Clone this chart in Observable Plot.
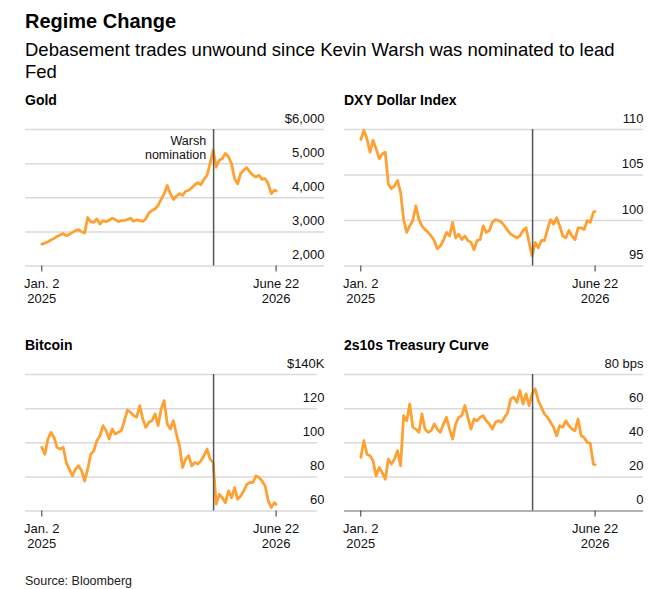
<!DOCTYPE html>
<html><head><meta charset="utf-8">
<script src="https://cdn.jsdelivr.net/npm/d3@7"></script>
<script src="https://cdn.jsdelivr.net/npm/@observablehq/plot@0.6"></script>
<style>
html,body{margin:0;padding:0;background:#fff}
body{font-family:"Liberation Sans",Arial,Helvetica,sans-serif;color:#000}
#root{position:relative;width:660px;height:589px;overflow:hidden}
.abs{position:absolute;white-space:nowrap}
#title{left:25px;top:11.4px;font-size:20px;line-height:20px;font-weight:bold}
#subtitle{left:25px;top:38.6px;font-size:18.5px;line-height:22.3px;width:612px;white-space:normal}
.ptitle{font-size:14px;line-height:14px;font-weight:bold}
#source{left:25px;top:574.7px;font-size:12.5px;line-height:12.5px;color:#222}
.panel svg{display:block}
</style>
</head><body>
<div id="root">
  <div id="title" class="abs">Regime Change</div>
  <div id="subtitle" class="abs">Debasement trades unwound since Kevin Warsh was nominated to lead Fed</div>
  <div class="abs ptitle" style="left:25px;top:92.5px">Gold</div>
  <div class="abs ptitle" style="left:344px;top:92.5px">DXY Dollar Index</div>
  <div class="abs ptitle" style="left:25px;top:338.1px">Bitcoin</div>
  <div class="abs ptitle" style="left:344px;top:338.1px">2s10s Treasury Curve</div>
  <div id="p-gold" class="abs panel" style="left:25px;top:108px"></div>
  <div id="p-dxy" class="abs panel" style="left:344px;top:108px"></div>
  <div id="p-btc" class="abs panel" style="left:25px;top:352.7px"></div>
  <div id="p-curve" class="abs panel" style="left:344px;top:352.7px"></div>
  <div id="source" class="abs">Source: Bloomberg</div>
</div>
<script>
const dates = [
"2025-01-02","2025-01-09","2025-01-16","2025-01-23","2025-01-30","2025-02-06","2025-02-13","2025-02-20","2025-02-27","2025-03-06",
"2025-03-13","2025-03-20","2025-03-27","2025-04-03","2025-04-10","2025-04-17","2025-04-24","2025-05-01","2025-05-08","2025-05-15",
"2025-05-22","2025-05-29","2025-06-05","2025-06-12","2025-06-19","2025-06-26","2025-07-03","2025-07-10","2025-07-17","2025-07-24",
"2025-07-31","2025-08-07","2025-08-14","2025-08-21","2025-08-28","2025-09-04","2025-09-11","2025-09-18","2025-09-25","2025-10-02",
"2025-10-09","2025-10-16","2025-10-23","2025-10-30","2025-11-06","2025-11-13","2025-11-20","2025-11-27","2025-12-04","2025-12-11",
"2025-12-18","2025-12-25","2026-01-01","2026-01-08","2026-01-15","2026-01-22","2026-01-29","2026-02-05","2026-02-12","2026-02-19",
"2026-02-26","2026-03-05","2026-03-12","2026-03-19","2026-03-26","2026-04-02","2026-04-09","2026-04-16","2026-04-23","2026-04-30",
"2026-05-07","2026-05-14","2026-05-21","2026-05-28","2026-06-04","2026-06-11","2026-06-18","2026-06-22"];

const gold = [
2640,2670,2710,2760,2810,2870,2910,2950,2890,2925,
2985,3035,3065,3005,2965,3420,3300,3280,3380,3230,
3330,3300,3340,3400,3360,3300,3330,3340,3360,3400,
3310,3350,3330,3310,3380,3560,3625,3670,3775,3950,
4120,4360,4120,3950,4050,4120,4070,4190,4220,4290,
4380,4440,4380,4540,4660,5000,5400,4900,5100,5150,
5300,5200,5000,4560,4410,4710,4810,4880,4760,4660,
4610,4660,4540,4560,4410,4120,4220,4200];

const dxy = [
108.9,109.9,109.0,107.5,108.8,107.9,106.8,107.3,107.5,104.0,
103.5,103.8,104.4,103.1,100.1,98.7,99.4,100.0,101.6,100.1,
99.4,99.0,98.7,98.3,97.8,96.9,97.2,97.8,98.7,98.3,
99.8,98.1,98.5,97.9,98.3,97.8,97.6,96.8,97.8,97.9,
99.4,98.7,98.9,99.8,100.1,100.0,99.8,99.4,98.9,98.5,
98.3,98.1,98.3,98.9,99.2,97.6,96.1,97.6,97.0,97.8,
97.8,99.0,100.1,99.6,100.3,99.4,98.3,98.1,98.9,98.3,
97.9,99.2,99.2,99.0,100.0,99.8,100.9,101.0];

const bitcoin = [
97.3,93.3,102.2,106.1,103.1,97.3,96.3,97.3,88.4,84.5,
80.6,84.5,86.5,83.5,77.6,84.5,93.3,95.3,101.2,104.1,
110.0,107.1,102.2,108.0,105.1,106.1,107.1,112.9,119.2,117.8,
115.9,114.9,121.8,113.9,109.0,112.0,112.9,116.9,110.0,119.8,
124.7,111.0,108.0,112.9,105.1,98.2,85.5,90.4,92.4,86.5,
88.4,87.5,89.4,92.4,96.3,90.4,88.4,64.0,69.8,67.8,
64.9,71.8,67.8,73.7,66.9,68.8,71.8,75.7,76.7,76.7,
80.6,79.6,77.6,74.7,65.9,62.0,64.9,63.9];

const curve2s10s = [
31.4,41.2,33.3,32.4,29.4,20.6,25.5,22.5,18.6,30.4,
27.5,30.4,35.3,26.5,55.9,52.9,62.7,49.0,48.0,46.1,
56.9,48.0,46.1,47.1,51.0,48.0,46.1,51.0,54.9,48.0,
42.2,51.0,54.9,55.9,61.8,54.9,48.0,53.9,52.9,54.9,
55.9,52.9,51.0,48.0,52.0,52.9,52.0,54.9,57.8,65.7,
66.7,63.7,70.6,62.7,68.6,61.8,68.6,71.6,64.7,60.8,
56.9,54.9,52.0,49.0,44.1,50.0,49.0,52.9,50.0,48.0,
47.1,53.9,44.1,43.1,40.2,39.6,27.5,27.1];

const xTickDates = ["2025-01-02","2026-06-22"];
const xTickLabels = ["Jan. 2\n2025","June 22\n2026"];
const nominationDate = "2026-01-30";
const nominationLabel = "Warsh\nnomination";

const goldTicks = [2000,3000,4000,5000,6000];
const goldLabels = ["2,000","3,000","4,000","5,000","$6,000"];
const dxyTicks = [95,100,105,110];
const dxyLabels = ["95","100","105","110"];
const btcTicks = [60,80,100,120,140];
const btcLabels = ["60","80","100","120","$140K"];
const curveTicks = [0,20,40,60,80];
const curveLabels = ["0","20","40","60","80 bps"];

const ORANGE = "#ffa033";
const FONT = "'Liberation Sans', Arial, Helvetica, sans-serif";

function panel(el, values, yTicks, yLabels, opts = {}) {
  const data = dates.map((d, i) => ({date: new Date(d), value: values[i]}));
  const xt = xTickDates.map(d => new Date(d));
  const nom = new Date(nominationDate);
  const grid = opts.zero ? yTicks.filter(t => t !== 0) : yTicks;
  const marks = [
    Plot.ruleY(grid, {stroke: "#dadada", strokeWidth: 1.5, insetRight: opts.insetRight || 0}),
    opts.zero ? Plot.ruleY([0], {stroke: "#9a9a9a", strokeWidth: 1.5}) : null,
    Plot.line(data, {x: "date", y: "value", stroke: ORANGE, strokeWidth: 2.8, strokeLinejoin: "round"}),
    Plot.ruleX([nom], {stroke: "#555", strokeWidth: 1.5}),
    Plot.text(yTicks, {y: d => d, text: (d, i) => yLabels[i], frameAnchor: "right", textAnchor: "end",
      lineAnchor: "bottom", dy: -7, fontSize: 13, fill: "#111"}),
    Plot.axisX(xt, {tickSize: 6, tickPadding: 5.4, stroke: "#333", fill: "#111", fontSize: 13, lineHeight: 1.15,
      tickFormat: d => xTickLabels[xt.findIndex(t => +t === +d)], label: null}),
    opts.annotate ? Plot.text([nom], {x: d => d, text: () => nominationLabel, frameAnchor: "top", textAnchor: "end",
      lineAnchor: "bottom", dy: 29.3, dx: -7.5, fontSize: 12.5, lineHeight: 1.07, fill: "#111"}) : null
  ].filter(Boolean);
  const chart = Plot.plot({
    width: 299, height: 200,
    marginLeft: 0, marginRight: 0, marginTop: 21, marginBottom: 42.5,
    style: {fontFamily: FONT, fontSize: "13px", color: "#111", background: "transparent", overflow: "visible"},
    x: {type: "utc", domain: xt, range: [16.3, 250.6]},
    y: {domain: [yTicks[0], yTicks[yTicks.length - 1]], axis: null},
    marks
  });
  document.getElementById(el).appendChild(chart);
}

panel("p-gold", gold, goldTicks, goldLabels, {annotate: true});
panel("p-dxy", dxy, dxyTicks, dxyLabels);
panel("p-btc", bitcoin, btcTicks, btcLabels, {insetRight: 7});
panel("p-curve", curve2s10s, curveTicks, curveLabels, {zero: true});
</script>
</body></html>
